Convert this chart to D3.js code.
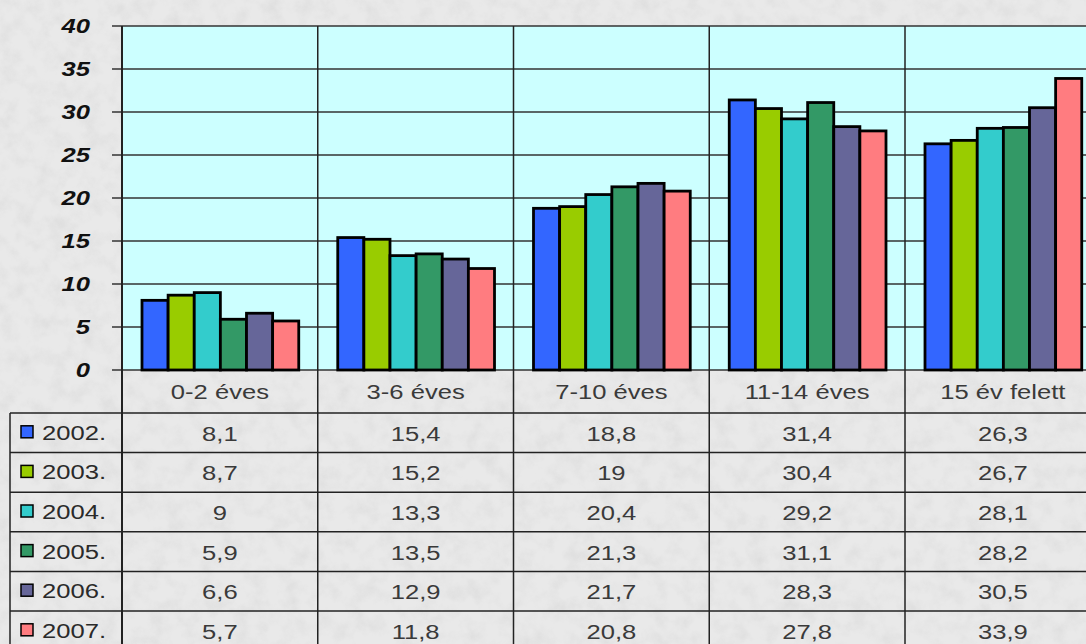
<html>
<head>
    <meta charset="utf-8">
    <title>Korcsoportok 2002-2007</title>
    <style>
        body { margin: 0; overflow: hidden; }
        text { font-family: "Liberation Sans", Arial, sans-serif; }
    </style>
</head>
<body>
<div id="my_dataviz"></div>
<script src="https://d3js.org/d3.v7.min.js"></script>
<script>

    var categories = ["0-2 éves", "3-6 éves", "7-10 éves", "11-14 éves", "15 év felett"];
    var years = ["2002.", "2003.", "2004.", "2005.", "2006.", "2007."];
    var v2002 = [8.1, 15.4, 18.8, 31.4, 26.3];
    var v2003 = [8.7, 15.2, 19, 30.4, 26.7];
    var v2004 = [9, 13.3, 20.4, 29.2, 28.1];
    var v2005 = [5.9, 13.5, 21.3, 31.1, 28.2];
    var v2006 = [6.6, 12.9, 21.7, 28.3, 30.5];
    var v2007 = [5.7, 11.8, 20.8, 27.8, 33.9];
    var yTicks = [0, 5, 10, 15, 20, 25, 30, 35, 40];
    var colors = ["#3366ff", "#99cc00", "#33cccc", "#339966", "#666699", "#ff7c80"];

    var series = [v2002, v2003, v2004, v2005, v2006, v2007];

    var W = 1086, H = 644;
    var plotLeft = 122, plotTop = 26, plotBottom = 370;
    var catW = 195.75;
    var tableTop = 413, rowH = 39.6, tableLeft = 10;
    var stretch = 1.28;

    var svg = d3.select("#my_dataviz")
        .append("svg")
        .attr("width", W)
        .attr("height", H);

    // granite-ish background
    var defs = svg.append("defs");
    var f = defs.append("filter").attr("id", "granite")
        .attr("x", 0).attr("y", 0).attr("width", "100%").attr("height", "100%");
    f.append("feTurbulence").attr("type", "fractalNoise")
        .attr("baseFrequency", 0.06).attr("numOctaves", 4).attr("seed", 7).attr("result", "n");
    f.append("feColorMatrix").attr("in", "n").attr("type", "matrix")
        .attr("values", "0 0 0 0 0.6  0 0 0 0 0.6  0 0 0 0 0.6  1.1 0 0 0 -0.45");

    svg.append("rect").attr("width", W).attr("height", H).attr("fill", "#e9e9e9");
    svg.append("rect").attr("width", W).attr("height", H).attr("filter", "url(#granite)").attr("opacity", 0.6);

    var x0 = d3.scaleBand()
        .domain(categories)
        .range([plotLeft, plotLeft + catW * categories.length]);

    var x1 = d3.scaleBand()
        .domain(years)
        .range([20, catW - 19]);

    var y = d3.scaleLinear()
        .domain([0, 40])
        .range([plotBottom, plotTop]);

    // plot background
    svg.append("rect")
        .attr("x", plotLeft).attr("y", plotTop)
        .attr("width", W - plotLeft).attr("height", plotBottom - plotTop)
        .attr("fill", "#ccffff");

    // horizontal gridlines + tick marks
    svg.append("g").selectAll("line")
        .data(yTicks)
        .enter().append("line")
        .attr("x1", plotLeft - 10).attr("x2", W)
        .attr("y1", function (d) { return y(d); })
        .attr("y2", function (d) { return y(d); })
        .attr("stroke", "#333")
        .attr("stroke-width", 1.5);

    // y labels
    svg.append("g").selectAll("text")
        .data(yTicks)
        .enter().append("text")
        .attr("transform", function (d) { return "translate(90," + (y(d) + 7) + ") scale(" + stretch + ",1)"; })
        .attr("text-anchor", "end")
        .style("font-size", "20px")
        .style("font-weight", "bold")
        .style("font-style", "italic")
        .attr("fill", "#111")
        .text(function (d) { return d; });

    // vertical separators through plot and table
    var seps = categories.map(function (c) { return x0(c); });
    svg.append("g").selectAll("line")
        .data(seps)
        .enter().append("line")
        .attr("x1", function (d) { return d; }).attr("x2", function (d) { return d; })
        .attr("y1", plotTop).attr("y2", H)
        .attr("stroke", "#222")
        .attr("stroke-width", function (d, i) { return i == 0 ? 2 : 1.5; });

    // bars
    var groups = svg.append("g").selectAll("g")
        .data(categories)
        .enter().append("g")
        .attr("transform", function (d) { return "translate(" + x0(d) + ",0)"; });

    groups.selectAll("rect")
        .data(function (d, ci) { return years.map(function (yr, si) { return { year: yr, value: series[si][ci], color: colors[si] }; }); })
        .enter().append("rect")
        .attr("x", function (d) { return x1(d.year); })
        .attr("y", function (d) { return y(d.value); })
        .attr("width", x1.bandwidth())
        .attr("height", function (d) { return plotBottom - y(d.value); })
        .attr("fill", function (d) { return d.color; })
        .attr("stroke", "#000")
        .attr("stroke-width", 2.8);

    // category labels row
    svg.append("g").selectAll("text")
        .data(categories)
        .enter().append("text")
        .attr("transform", function (d) { return "translate(" + (x0(d) + catW / 2) + "," + 399 + ") scale(" + stretch + ",1)"; })
        .attr("text-anchor", "middle")
        .style("font-size", "20px")
        .attr("fill", "#3a3a3a")
        .text(function (d) { return d; });

    // table horizontal lines
    var rowLines = d3.range(years.length + 1).map(function (i) { return tableTop + i * rowH; });
    svg.append("g").selectAll("line")
        .data(rowLines)
        .enter().append("line")
        .attr("x1", tableLeft).attr("x2", W)
        .attr("y1", function (d) { return d; }).attr("y2", function (d) { return d; })
        .attr("stroke", "#222")
        .attr("stroke-width", 1.5);

    svg.append("line")
        .attr("x1", tableLeft).attr("x2", tableLeft)
        .attr("y1", tableTop).attr("y2", H)
        .attr("stroke", "#222").attr("stroke-width", 1.5);

    // legend keys + year labels
    var rows = svg.append("g").selectAll("g")
        .data(years)
        .enter().append("g")
        .attr("transform", function (d, i) { return "translate(0," + (tableTop + i * rowH) + ")"; });

    rows.append("rect")
        .attr("x", 21).attr("y", rowH / 2 - 7)
        .attr("width", 12).attr("height", 12)
        .attr("fill", function (d, i) { return colors[i]; })
        .attr("stroke", "#000")
        .attr("stroke-width", 1.5);

    rows.append("text")
        .attr("transform", "translate(42," + (rowH / 2 + 7) + ") scale(" + stretch + ",1)")
        .style("font-size", "20px")
        .attr("fill", "#2a2a2a")
        .text(function (d) { return d; });

    // table values
    rows.each(function (yr, si) {
        d3.select(this).selectAll("text.val")
            .data(categories)
            .enter().append("text")
            .attr("class", "val")
            .attr("transform", function (c, ci) { return "translate(" + (x0(c) + catW / 2) + "," + (rowH / 2 + 8) + ") scale(" + stretch + ",1)"; })
            .attr("text-anchor", "middle")
            .style("font-size", "20px")
            .attr("fill", "#3a3a3a")
            .text(function (c, ci) { return String(series[si][ci]).replace(".", ","); });
    });

</script>
</body>
</html>
